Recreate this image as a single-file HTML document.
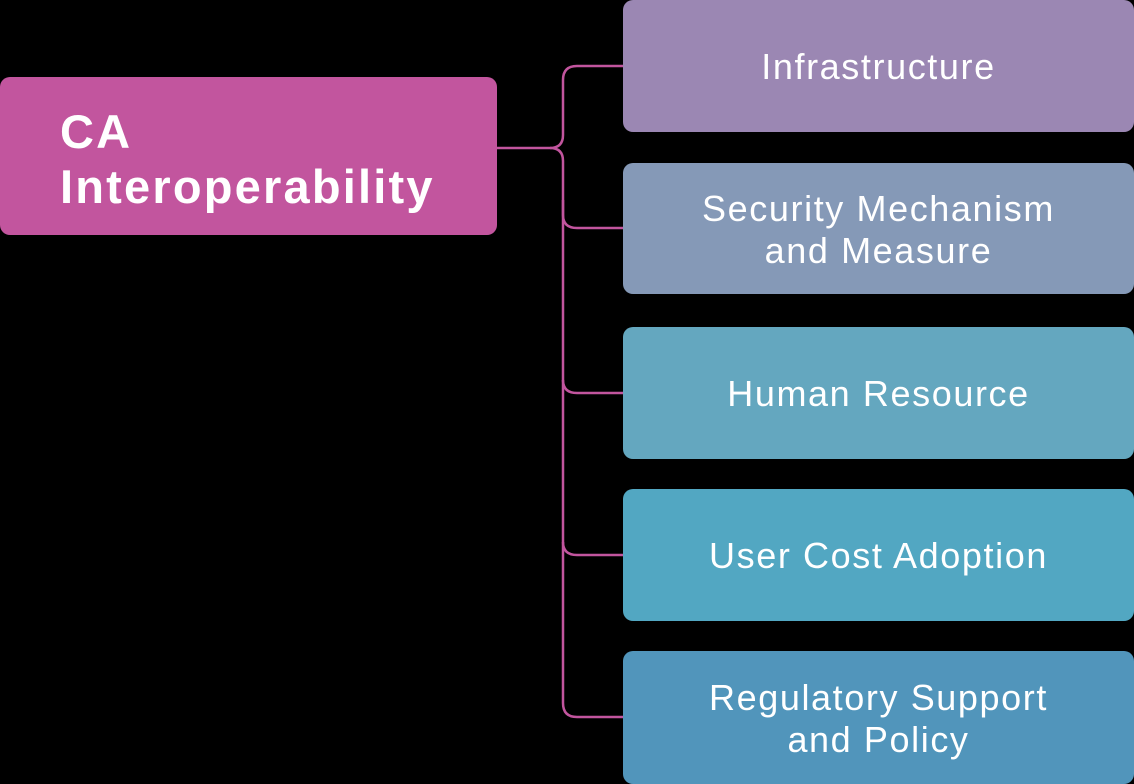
<!DOCTYPE html>
<html><head><style>
html,body{margin:0;padding:0;background:#000;width:1134px;height:784px;overflow:hidden}
.b{position:absolute;border-radius:10px;color:#fff;font-family:"Liberation Sans",sans-serif;display:flex;align-items:center;justify-content:center;text-align:center;font-size:36px;line-height:42px;letter-spacing:1.6px;padding-top:2px;box-sizing:border-box}
</style></head><body>
<svg width="1134" height="784" style="position:absolute;left:0;top:0">
<g fill="none" stroke="#c2559e" stroke-width="2.5">
<path d="M497 148 H550 Q563 148 563 135 V80 Q563 66 577 66 H625"/>
<path d="M550 148 Q563 148 563 161 V215 Q563 228 577 228 H625"/>
<path d="M563 200 V703 Q563 717 577 717 H625"/>
<path d="M563 380 Q563 393 577 393 H625"/>
<path d="M563 542 Q563 555 577 555 H625"/>
</g>
</svg>
<div class="b" style="left:0;top:77px;width:497px;height:158px;background:#c2559e;justify-content:flex-start;text-align:left;font-weight:bold;font-size:47px;line-height:55px;letter-spacing:2.2px;padding-left:60px;padding-top:6px;box-sizing:border-box">CA<br>Interoperability</div>
<div class="b" style="left:623px;top:0;width:511px;height:132px;background:#9b87b3">Infrastructure</div>
<div class="b" style="left:623px;top:163px;width:511px;height:131px;background:#8599b7">Security Mechanism<br>and Measure</div>
<div class="b" style="left:623px;top:327px;width:511px;height:132px;background:#64a7bf">Human Resource</div>
<div class="b" style="left:623px;top:489px;width:511px;height:132px;background:#52a7c2">User Cost Adoption</div>
<div class="b" style="left:623px;top:651px;width:511px;height:133px;background:#5195bb">Regulatory Support<br>and Policy</div>
</body></html>
